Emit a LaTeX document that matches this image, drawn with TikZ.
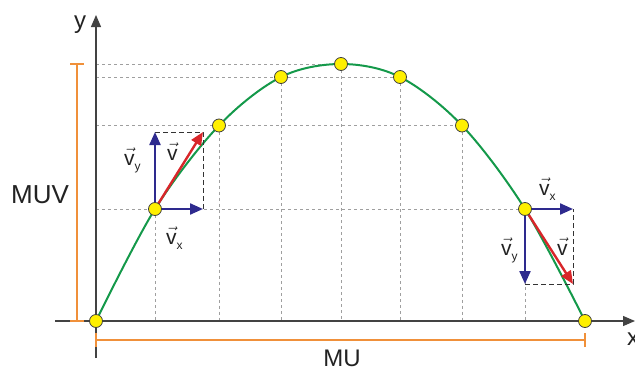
\documentclass[tikz,border=0pt]{standalone}
\usepackage{fontspec}
\setmainfont{Liberation Sans}
\usetikzlibrary{arrows.meta}
\definecolor{txt}{HTML}{222222}
\definecolor{navy}{HTML}{2E2A8E}
\definecolor{vred}{HTML}{D8262A}
\definecolor{traj}{HTML}{14994A}
\definecolor{orng}{HTML}{F0903A}
\definecolor{dotf}{HTML}{FFF000}
\newcommand\vsym[1]{$\vec{\mbox{v}}$\raisebox{-5.5pt}{\fontsize{12}{12}\selectfont #1}}
\begin{document}
\begin{tikzpicture}[x=1pt,y=-1pt,
 axis/.style={line width=1.1pt, draw=txt!85, -{Triangle[length=12pt,width=10pt]}},
 gridl/.style={gray!75, line width=0.6pt, dash pattern=on 3pt off 3pt},
 dot/.style={circle, draw=black!75, fill=dotf, line width=0.8pt, minimum size=13pt, inner sep=0pt},
 comp/.style={navy, line width=2.2pt, -{Triangle[length=13pt,width=11pt]}},
 res/.style={vred, line width=2.4pt, -{Triangle[length=13pt,width=11pt]}},
 proj/.style={black!80, line width=0.9pt, dash pattern=on 5pt off 3pt},
 bar/.style={orng, line width=1.6pt},
 lab/.style={text=txt, inner sep=0pt, anchor=base},
 vlab/.style={text=txt, font=\fontsize{21}{21}\selectfont, inner sep=0pt, anchor=base west}]
\useasboundingbox (0,0) rectangle (635,370);
% trajectory points
\coordinate (c0) at (96,321);
\coordinate (c1) at (155,209);
\coordinate (c2) at (219,125.5);
\coordinate (c3) at (281,77);
\coordinate (c4) at (341,64);
\coordinate (c5) at (400,77);
\coordinate (c6) at (462,125.5);
\coordinate (c7) at (525,209);
\coordinate (c8) at (585,321);
\coordinate (O) at (96,321);
% grid
\foreach \i in {1,...,7} {\draw[gridl] (c\i) -- (c\i |- O);}
\foreach \i in {4,5,6,7} {\draw[gridl] (O |- c\i) -- (c\i);}
% axes
\coordinate (xs) at (55,321);
\coordinate (xe) at (635,321);
\coordinate (ys) at (96,358);
\coordinate (ye) at (96,15);
\draw[axis] (xs) -- (xe);
\draw[axis] (ys) -- (ye);
\node[lab, font=\fontsize{24}{24}\selectfont] (ylab) at (80,28) {y};
\node[lab, font=\fontsize{24}{24}\selectfont, anchor=base west] (xlab) at (627,345) {x};
% bars
\coordinate (muvT) at (77,64);
\coordinate (muvB) at (77,321);
\draw[bar] (muvT) -- (muvB);
\draw[bar] ([xshift=-7pt]muvT) -- ([xshift=7pt]muvT);
\draw[bar] ([xshift=-7pt]muvB) -- ([xshift=7pt]muvB);
\node[lab, font=\fontsize{26}{26}\selectfont] (muv) at (40,203) {MUV};
\coordinate (muL) at (96,340);
\coordinate (muR) at (585,340);
\draw[bar] (muL) -- (muR);
\draw[bar] ([yshift=-7pt]muL) -- ([yshift=7pt]muL);
\draw[bar] ([yshift=-7pt]muR) -- ([yshift=7pt]muR);
\node[lab, font=\fontsize{24}{24}\selectfont] (mu) at (342,366) {MU};
% curve
\draw[traj, line width=2pt] plot[smooth, tension=0.55] coordinates {(c0) (c1) (c2) (c3) (c4) (c5) (c6) (c7) (c8)};
% left vectors
\coordinate (lvy) at (155,132);
\coordinate (lvx) at (203,209);
\coordinate (lv) at (203,132);
\draw[proj] (lvy) -- (lv) -- (lvx);
\draw[comp] (c1) -- (lvy);
\draw[comp] (c1) -- (lvx);
\draw[res] (c1) -- (lv);
\node[vlab] (lvyl) at (124,165) {\vsym{y}};
\node[vlab] (lvl) at (167,160) {\vsym{}};
\node[vlab] (lvxl) at (166,244) {\vsym{x}};
% right vectors
\coordinate (rvx) at (573,209);
\coordinate (rvy) at (525,284);
\coordinate (rv) at (573,284);
\draw[proj] (rvy) -- (rv) -- (rvx);
\draw[comp] (c7) -- (rvx);
\draw[comp] (c7) -- (rvy);
\draw[res] (c7) -- (rv);
\node[vlab] (rvxl) at (539,195) {\vsym{x}};
\node[vlab] (rvyl) at (501,255) {\vsym{y}};
\node[vlab] (rvl) at (557,255) {\vsym{}};
% dots
\foreach \i in {0,...,8} {\node[dot] (p\i) at (c\i) {};}
\end{tikzpicture}
\end{document}
